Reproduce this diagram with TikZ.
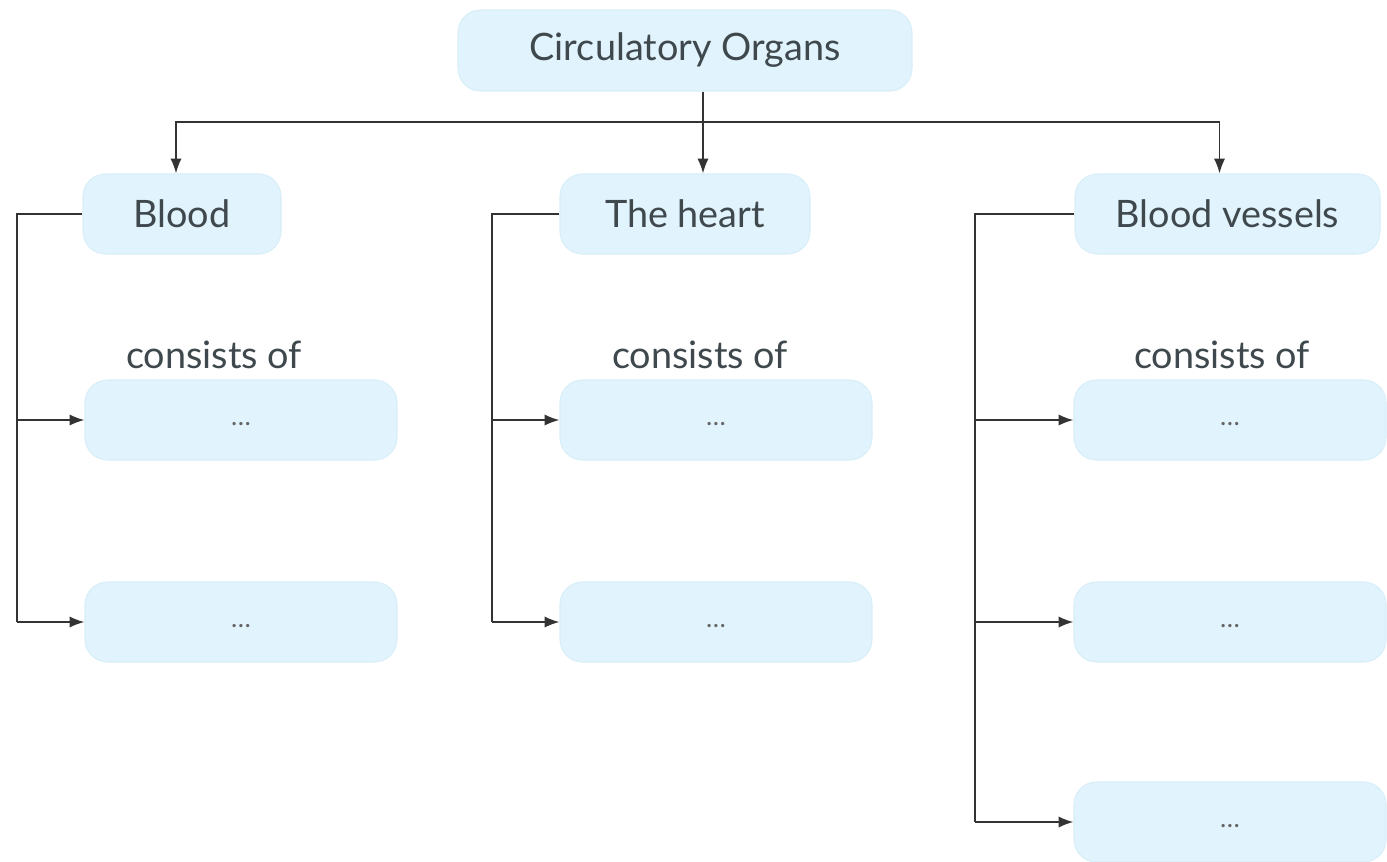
\documentclass[tikz,border=0pt]{standalone}
\usepackage{xcolor}
\usepackage{fontspec}
\setmainfont{Lato}
\usepackage{tikz}
\usetikzlibrary{positioning}
\usetikzlibrary{arrows.meta}
\definecolor{boxfill}{HTML}{E1F3FC}
\definecolor{boxline}{HTML}{D8EEF8}
\definecolor{txtgray}{HTML}{3E484D}
\tikzstyle{box}=[rectangle,rounded corners=0.45cm,fill=boxfill,draw=boxline,line width=0.6pt,text=txtgray,font=\fontsize{21.5}{25}\selectfont,minimum height=1.6cm,inner sep=0pt]
\tikzstyle{dotbox}=[box,minimum width=6.24cm,font=\fontsize{15}{18}\selectfont,text=black!60]
\tikzstyle{note}=[text=txtgray,font=\fontsize{21.5}{25}\selectfont,inner sep=0pt]
\tikzstyle{link}=[draw,line width=1.1pt,black!80]
\tikzstyle{arrowlink}=[link,-{Latex[length=8.5pt,width=6.5pt]}]

\begin{document}
\begin{tikzpicture}
  \useasboundingbox (0,0) rectangle (27.74,-17.22);

  \node[box,minimum width=9.08cm,minimum height=1.62cm] (organs) at (13.7,-1.01) {Circulatory Organs};

  \foreach \x/\name/\w/\lbl in {3.64/blood/3.96/Blood, 13.7/heart/5.0/The heart, 24.55/vessels/6.1/Blood vessels}
          \node[box,minimum width=\w cm] (\name) at (\x,-4.28) {\lbl};

  \foreach \x/\name in {4.28/cb, 14.0/ch, 24.44/cv}
          \node[note] (\name) at (\x,-7.1) {consists of};

  \foreach \x/\y/\name in {4.82/-8.4/b1, 4.82/-12.44/b2, 14.32/-8.4/h1, 14.32/-12.44/h2, 24.6/-8.4/v1, 24.6/-12.44/v2, 24.6/-16.44/v3}
          \node[dotbox] (\name) at (\x,\y) {\smash{\raisebox{-0.1cm}{\ldots}}};

  % trunk
  \coordinate (split) at (14.06,-2.44);
  \draw[link] (organs.south -| split) -- (split);
  \draw[arrowlink] (split) -| ([xshift=-0.12cm]blood.north);
  \draw[arrowlink] (split) -- (heart.north -| split);
  \draw[arrowlink] (split) -| ([xshift=-0.16cm]vessels.north);

  % brackets
  \coordinate (lbus) at (0.34,0);
  \coordinate (hbus) at (9.84,0);
  \coordinate (vbus) at (19.5,0);
  \foreach \source/\bus/\last in {blood/lbus/b2, heart/hbus/h2, vessels/vbus/v3}
         \draw[link] (\source.west) -- (\source.west -| \bus) -- (\bus |- \last.west);

  \foreach \bus/\dest in {lbus/b1, lbus/b2, hbus/h1, hbus/h2, vbus/v1, vbus/v2, vbus/v3}
         \draw[arrowlink] (\bus |- \dest.west) -- (\dest.west);

\end{tikzpicture}
\end{document}
